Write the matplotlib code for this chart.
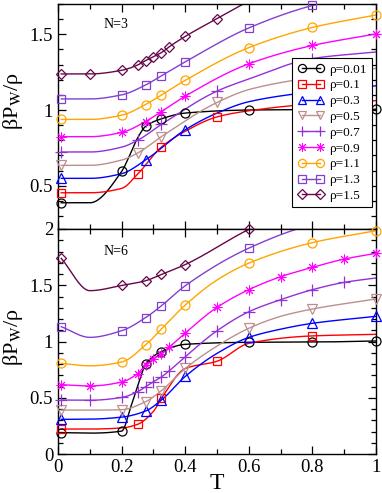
import numpy as np
import matplotlib
matplotlib.use("Agg")
import matplotlib.pyplot as plt
from matplotlib.lines import Line2D
from matplotlib.ticker import MultipleLocator, FuncFormatter

plt.rcParams['font.family'] = ['Liberation Serif', 'DejaVu Serif']
plt.rcParams['mathtext.fontset'] = 'stix'

# ---- data: N=3 panel (T, value, marker shown 1/0) ----
t3_001 = [0.01, 0.1, 0.2, 0.225, 0.25, 0.275, 0.325, 0.4, 0.6, 1.0]
v3_001 = [0.388, 0.388, 0.595, 0.70, 0.815, 0.892, 0.942, 0.98, 1.0, 1.005]
m3_001 = [1, 0, 1, 0, 0, 1, 1, 1, 1, 1]

t3_01 = [0.01, 0.1, 0.2, 0.25, 0.325, 0.4, 0.5, 0.6, 0.8, 1.0]
v3_01 = [0.454, 0.454, 0.483, 0.577, 0.756, 0.86, 0.955, 0.995, 1.04, 1.062]
m3_01 = [1, 0, 0, 1, 1, 0, 1, 0, 0, 0]

t3_03 = [0.01, 0.1, 0.2, 0.275, 0.4, 0.5, 0.6, 0.8, 1.0]
v3_03 = [0.549, 0.549, 0.58, 0.67, 0.87, 0.98, 1.055, 1.12, 1.16]
m3_03 = [1, 0, 0, 1, 1, 0, 0, 0, 0]

t3_05 = [0.01, 0.1, 0.2, 0.25, 0.325, 0.5, 0.6, 0.8, 1.0]
v3_05 = [0.635, 0.635, 0.67, 0.716, 0.825, 1.05, 1.135, 1.216, 1.275]
m3_05 = [1, 0, 0, 1, 1, 1, 0, 0, 0]

t3_07 = [0.01, 0.1, 0.2, 0.25, 0.325, 0.5, 0.6, 0.8, 1.0]
v3_07 = [0.723, 0.723, 0.755, 0.80, 0.905, 1.125, 1.205, 1.34, 1.383]
m3_07 = [1, 0, 0, 1, 1, 1, 0, 1, 0]

t3_09 = [0.01, 0.1, 0.2, 0.275, 0.325, 0.4, 0.6, 0.8, 1.0]
v3_09 = [0.824, 0.824, 0.852, 0.924, 0.99, 1.092, 1.305, 1.426, 1.502]
m3_09 = [1, 0, 1, 1, 1, 1, 1, 1, 1]

t3_11 = [0.01, 0.1, 0.2, 0.275, 0.325, 0.4, 0.6, 0.8, 1.0]
v3_11 = [0.938, 0.938, 0.966, 1.036, 1.099, 1.196, 1.412, 1.545, 1.627]
m3_11 = [1, 0, 1, 1, 1, 1, 1, 1, 1]

t3_13 = [0.01, 0.1, 0.2, 0.275, 0.325, 0.4, 0.6, 0.8, 1.0]
v3_13 = [1.073, 1.073, 1.1, 1.165, 1.226, 1.318, 1.542, 1.69, 1.78]
m3_13 = [1, 0, 1, 1, 1, 1, 1, 1, 0]

t3_15 = [0.01, 0.1, 0.2, 0.25, 0.275, 0.3, 0.325, 0.35, 0.4, 0.5, 0.6]
v3_15 = [1.238, 1.238, 1.262, 1.297, 1.326, 1.352, 1.379, 1.418, 1.486, 1.603, 1.72]
m3_15 = [1, 1, 1, 1, 1, 1, 1, 1, 1, 1, 0]

# ---- data: N=6 panel ----
t6_001 = [0.01, 0.1, 0.2, 0.23, 0.258, 0.275, 0.325, 0.4, 0.6, 0.8, 1.0]
v6_001 = [0.19, 0.186, 0.204, 0.43, 0.67, 0.797, 0.91, 0.975, 0.993, 0.995, 1.005]
m6_001 = [1, 0, 1, 0, 0, 1, 1, 1, 1, 1, 1]

t6_01 = [0.01, 0.1, 0.2, 0.25, 0.3, 0.325, 0.4, 0.5, 0.6, 0.8, 1.0]
v6_01 = [0.222, 0.222, 0.232, 0.264, 0.38, 0.495, 0.76, 0.825, 0.984, 1.05, 1.064]
m6_01 = [1, 0, 0, 1, 0, 1, 0, 1, 0, 1, 0]

t6_03 = [0.01, 0.1, 0.2, 0.275, 0.325, 0.4, 0.5, 0.6, 0.7, 0.8, 1.0]
v6_03 = [0.308, 0.31, 0.328, 0.382, 0.48, 0.69, 0.895, 1.037, 1.11, 1.162, 1.224]
m6_03 = [1, 0, 1, 1, 1, 1, 0, 1, 0, 1, 1]

t6_05 = [0.01, 0.1, 0.2, 0.275, 0.325, 0.4, 0.5, 0.6, 0.7, 0.8, 1.0]
v6_05 = [0.391, 0.39, 0.394, 0.465, 0.563, 0.761, 0.96, 1.118, 1.224, 1.289, 1.378]
m6_05 = [1, 0, 1, 1, 1, 1, 0, 1, 0, 1, 1]

t6_07 = [0.01, 0.1, 0.2, 0.25, 0.275, 0.3, 0.325, 0.35, 0.4, 0.5, 0.6, 0.7, 0.8, 0.9, 1.0]
v6_07 = [0.48, 0.478, 0.503, 0.554, 0.598, 0.643, 0.685, 0.741, 0.865, 1.096, 1.265, 1.372, 1.461, 1.526, 1.565]
m6_07 = [1, 1, 1, 1, 1, 1, 1, 1, 1, 1, 1, 1, 1, 1, 0]

t6_09 = [0.01, 0.1, 0.2, 0.25, 0.275, 0.3, 0.325, 0.35, 0.4, 0.5, 0.6, 0.7, 0.8, 0.9, 1.0]
v6_09 = [0.617, 0.605, 0.64, 0.715, 0.79, 0.845, 0.89, 0.95, 1.076, 1.304, 1.461, 1.576, 1.659, 1.733, 1.784]
m6_09 = [1, 1, 1, 1, 1, 1, 1, 1, 1, 1, 1, 1, 1, 1, 1]

t6_11 = [0.01, 0.1, 0.2, 0.275, 0.325, 0.4, 0.5, 0.6, 0.8, 1.0]
v6_11 = [0.806, 0.784, 0.818, 0.969, 1.111, 1.324, 1.547, 1.697, 1.879, 1.985]
m6_11 = [1, 0, 1, 1, 1, 1, 0, 1, 1, 1]

t6_13 = [0.01, 0.1, 0.2, 0.275, 0.325, 0.4, 0.6, 0.8, 1.0]
v6_13 = [1.132, 1.037, 1.096, 1.212, 1.318, 1.496, 1.83, 2.04, 2.15]
m6_13 = [1, 0, 1, 1, 1, 1, 1, 0, 0]

t6_15 = [0.01, 0.1, 0.2, 0.275, 0.325, 0.4, 0.6, 0.8]
v6_15 = [1.739, 1.452, 1.498, 1.54, 1.596, 1.684, 1.997, 2.25]
m6_15 = [1, 0, 1, 1, 1, 1, 1, 0]

labels = ['ρ=0.01', 'ρ=0.1', 'ρ=0.3', 'ρ=0.5', 'ρ=0.7', 'ρ=0.9', 'ρ=1.1', 'ρ=1.3', 'ρ=1.5']

panel3 = [(t3_001, v3_001, m3_001), (t3_01, v3_01, m3_01), (t3_03, v3_03, m3_03),
          (t3_05, v3_05, m3_05), (t3_07, v3_07, m3_07), (t3_09, v3_09, m3_09),
          (t3_11, v3_11, m3_11), (t3_13, v3_13, m3_13), (t3_15, v3_15, m3_15)]
panel6 = [(t6_001, v6_001, m6_001), (t6_01, v6_01, m6_01), (t6_03, v6_03, m6_03),
          (t6_05, v6_05, m6_05), (t6_07, v6_07, m6_07), (t6_09, v6_09, m6_09),
          (t6_11, v6_11, m6_11), (t6_13, v6_13, m6_13), (t6_15, v6_15, m6_15)]

colors = ['black', 'red', 'blue', '#bc8f8f', '#9430d8', '#ff00ff', '#ffa500', '#8040d0', '#670748']
markers = ['o', 's', '^', 'v', '+', (8, 2, 0), 'o', 's', 'D']
msizes = [6.5, 6.0, 6.5, 6.5, 8.0, 7.0, 6.5, 6.0, 5.2]
mews = [0.9, 0.9, 0.9, 0.9, 0.9, 0.7, 0.9, 0.9, 0.9]


def pchip(x, y, xs):
    x = np.asarray(x, float)
    y = np.asarray(y, float)
    h = np.diff(x)
    d = np.diff(y) / h
    m = np.zeros_like(y)
    m[0], m[-1] = d[0], d[-1]
    for k in range(1, len(x) - 1):
        if d[k - 1] * d[k] > 0:
            w1 = 2 * h[k] + h[k - 1]
            w2 = h[k] + 2 * h[k - 1]
            m[k] = (w1 + w2) / (w1 / d[k - 1] + w2 / d[k])
    idx = np.clip(np.searchsorted(x, xs) - 1, 0, len(x) - 2)
    s = (xs - x[idx]) / h[idx]
    h00 = 2 * s**3 - 3 * s**2 + 1
    h10 = s**3 - 2 * s**2 + s
    h01 = -2 * s**3 + 3 * s**2
    h11 = s**3 - s**2
    return h00 * y[idx] + h10 * h[idx] * m[idx] + h01 * y[idx + 1] + h11 * h[idx] * m[idx + 1]


fig = plt.figure(figsize=(3.82, 4.93), dpi=100)
ax1 = fig.add_axes([0.152, 0.5355, 0.8325, 0.4565])
ax2 = fig.add_axes([0.152, 0.079, 0.8325, 0.4565])

for ax, panel, ylim in [(ax1, panel3, (0.215, 1.70)), (ax2, panel6, (0, 2))]:
    for (t, v, mk), c, mkr, ms, mw in zip(panel, colors, markers, msizes, mews):
        t = np.array(t)
        v = np.array(v)
        mk = np.array(mk, bool)
        tt = np.linspace(t[0], t[-1], 400)
        ax.plot(tt, pchip(t, v, tt), color=c, lw=1.0)
        keep = mk & (v <= ylim[1] + 0.01)
        ax.plot(t[keep], v[keep], ls='none', marker=mkr, ms=ms, mfc='none',
                mec=c, mew=mw, clip_on=False, zorder=3)
    ax.set_xlim(0, 1)
    ax.set_ylim(*ylim)
    ax.xaxis.set_major_locator(MultipleLocator(0.2))
    ax.xaxis.set_minor_locator(MultipleLocator(0.1))
    ax.yaxis.set_major_locator(MultipleLocator(0.5))
    ax.yaxis.set_minor_locator(MultipleLocator(0.1))
    ax.tick_params(which='both', direction='in', top=True, right=True, labelsize=13.5, width=0.9)
    ax.tick_params(which='major', length=6)
    ax.tick_params(which='minor', length=3.5)
    ax.yaxis.set_major_formatter(FuncFormatter(lambda val, pos: '%g' % val))
    ax.xaxis.set_major_formatter(FuncFormatter(lambda val, pos: '%g' % val))
    for sp in ax.spines.values():
        sp.set_linewidth(1.0)
    ax.set_ylabel('βP$_{\\mathrm{W}}$/ρ', fontsize=16)

ax1.tick_params(labelbottom=False)
ax1.yaxis.set_label_coords(-0.105, 0.57)
ax2.yaxis.set_label_coords(-0.105, 0.52)
ax2.set_xlabel('T', fontsize=17, labelpad=-2)

ax1.text(0.142, 0.91, 'N=3', transform=ax1.transAxes, fontsize=10, va='center')
ax2.text(0.142, 0.90, 'N=6', transform=ax2.transAxes, fontsize=10, va='center')

handles = [Line2D([], [], color=c, lw=1.0, marker=mkr, ms=ms * 0.9, mfc='none', mec=c, mew=mw)
           for c, mkr, ms, mw in zip(colors, markers, msizes, mews)]
leg = ax1.legend(handles, labels, loc='upper left', bbox_to_anchor=(0.737, 0.759),
                 borderaxespad=0, numpoints=2, fontsize=9.5, handlelength=2.0,
                 labelspacing=0.27, handletextpad=0.4, borderpad=0.4,
                 fancybox=False, framealpha=1, edgecolor='black')
leg.get_frame().set_linewidth(0.8)
leg.set_zorder(10)

fig.savefig('out.png', dpi=100)
